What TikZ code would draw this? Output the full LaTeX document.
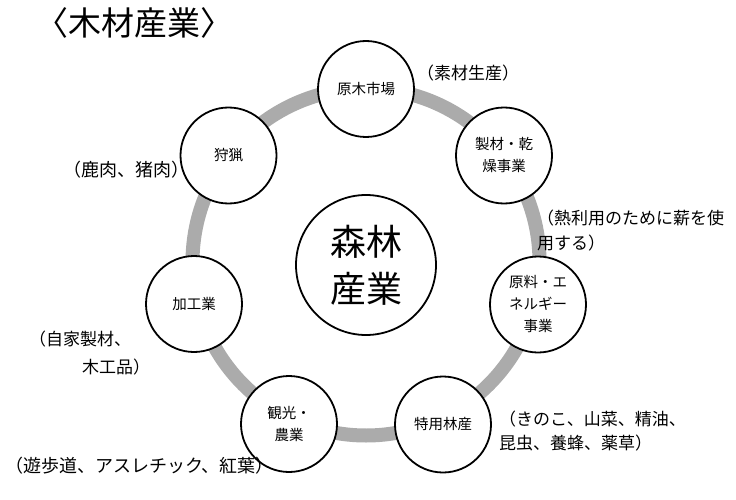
\documentclass[tikz,border=0pt]{standalone}
\usepackage{fontspec}
\setmainfont{Noto Sans CJK JP}
\usepackage{tikz}
\tikzstyle{biz} = [draw=black, line width=1.8pt, fill=white, circle, minimum size=96pt, inner sep=0pt, align=center, font={\fontsize{14.5}{22}\selectfont}]
\tikzstyle{hub} = [biz, minimum size=140pt, font={\fontsize{36}{47}\selectfont}]
\tikzstyle{remark} = [inner sep=0pt, font={\fontsize{17}{25}\selectfont}]
\tikzstyle{wide} = [font={\fontsize{18}{25}\selectfont}]
\tikzstyle{ring} = [draw=black!33, line width=14pt]

\begin{document}
\begin{tikzpicture}[x=1pt,y=-1pt]
        \useasboundingbox (0,0) rectangle (736,500);
        \coordinate (c) at (366,262);
        \draw[ring] (c) circle[radius=173.5pt];
        \node[font={\fontsize{33}{33}\selectfont}](title) at (134,23){〈木材産業〉};
        \node[hub](h) at (366,265){森林\\産業};
        \node[biz](0) at (366,89){原木市場};
        \node[biz](1) at (504,155.5){製材・乾\\燥事業};
        \node[biz](2) at (538,304.5){原料・エ\\ネルギー\\事業};
        \node[biz](3) at (443,424.5){特用林産};
        \node[biz](4) at (289,424){観光・\\農業};
        \node[biz](5) at (194,304){加工業};
        \node[biz](6) at (228.5,155.5){狩猟};
        \node[remark](r0) at (468,73){（素材生産）};
        \node[remark,align=left,anchor=west](r1) at (537,231){（熱利用のために薪を使\\用する）};
        \node[remark,align=left,anchor=west,font={\fontsize{17}{24}\selectfont}](r3) at (499,431){（きのこ、山菜、精油、\\昆虫、養蜂、薬草）};
        \node[remark,wide](r4) at (139.5,465.5){（遊歩道、アスレチック、紅葉）};
        \node[remark,align=left,anchor=west,font={\fontsize{17}{28}\selectfont}](r5) at (29,353.5){（自家製材、\\\hspace*{53pt}木工品）};
        \node[remark,wide](r6) at (126,170){（鹿肉、猪肉）};
      \end{tikzpicture}
\end{document}
